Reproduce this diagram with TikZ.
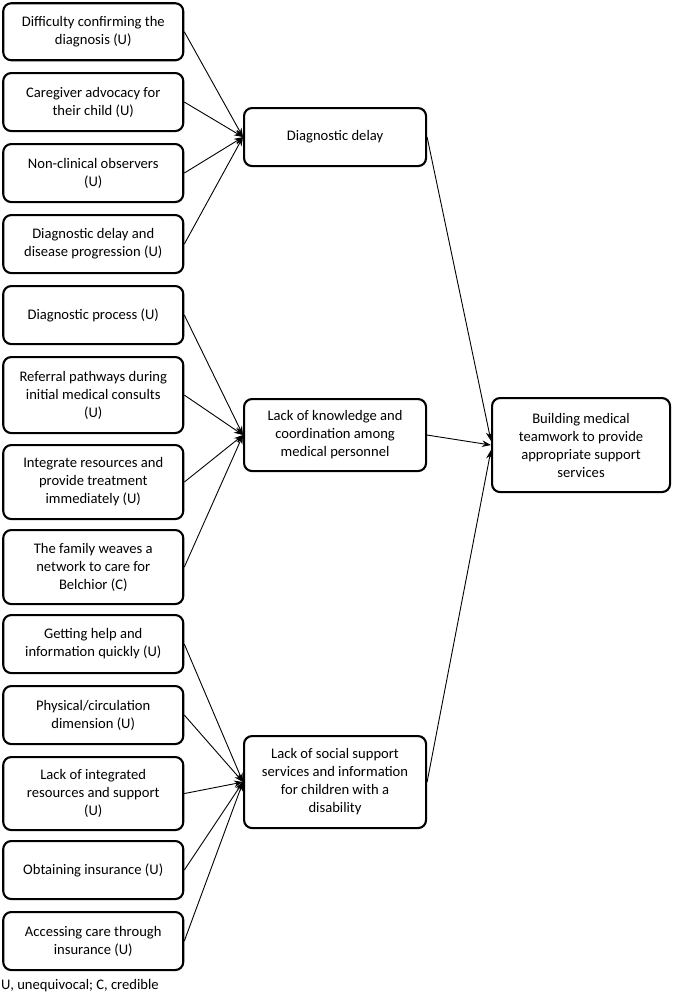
\documentclass[tikz,border=0pt]{standalone}
\usepackage{fontspec}
\setmainfont{Carlito}
\usetikzlibrary{arrows.meta}
\begin{document}
\begin{tikzpicture}[x=1pt,y=-1pt,
  box/.style={draw, line width=2.1pt, rounded corners=8pt, align=center, inner sep=2pt,
    anchor=north west, font=\fontsize{14.6}{18}\selectfont},
  lbox/.style={box, minimum width=180pt},
  mbox/.style={box, minimum width=182pt},
  arr/.style={-{Stealth[length=9pt,width=6.5pt]}, line width=0.9pt}]
\useasboundingbox (0,0) rectangle (673,1001);
% left column
\node[lbox, minimum height=57pt] (a1) at (2.2,2.2) {Difficulty confirming the\\diagnosis (U)};
\node[lbox, minimum height=58pt] (a2) at (2.2,72) {Caregiver advocacy for\\their child (U)};
\node[lbox, minimum height=58pt] (a3) at (2.2,143) {Non-clinical observers\\(U)};
\node[lbox, minimum height=58pt] (a4) at (2.2,214) {Diagnostic delay and\\disease progression (U)};
\node[lbox, minimum height=58pt] (b1) at (2.2,285) {Diagnostic process (U)};
\node[lbox, minimum height=76pt] (b2) at (2.2,356) {Referral pathways during\\initial medical consults\\(U)};
\node[lbox, minimum height=74pt] (b3) at (2.2,444) {Integrate resources and\\provide treatment\\immediately (U)};
\node[lbox, minimum height=74pt] (b4) at (2.2,529) {The family weaves a\\network to care for\\Belchior (C)};
\node[lbox, minimum height=58pt] (c1) at (2.2,614) {Getting help and\\information quickly (U)};
\node[lbox, minimum height=58pt] (c2) at (2.2,685) {Physical/circulation\\dimension (U)};
\node[lbox, minimum height=73pt] (c3) at (2.2,756) {Lack of integrated\\resources and support\\(U)};
\node[lbox, minimum height=58pt] (c4) at (2.2,840) {Obtaining insurance (U)};
\node[lbox, minimum height=58pt] (c5) at (2.2,911) {Accessing care through\\insurance (U)};
% middle column
\node[mbox, minimum height=58pt] (dd) at (243,107) {Diagnostic delay};
\node[mbox, minimum height=72pt] (lk) at (243,398) {Lack of knowledge and\\coordination among\\medical personnel};
\node[mbox, minimum height=92pt] (ls) at (243,735) {Lack of social support\\services and information\\for children with a\\disability};
% right
\node[box, minimum width=178pt, minimum height=94pt] (bm) at (491,397) {Building medical\\teamwork to provide\\appropriate support\\services};
% legend
\node[anchor=west, inner sep=0pt, font=\fontsize{14.6}{18}\selectfont] (leg) at (1,986) {U, unequivocal; C, credible};
% arrows
\foreach \s in {a1,a2,a3,a4} \draw[arr] (\s.east) -- (dd.west);
\foreach \s in {b1,b2,b3,b4} \draw[arr] (\s.east) -- (lk.west);
\foreach \s in {c1,c2,c3,c4,c5} \draw[arr] (\s.east) -- (ls.west);
\draw[arr] (dd.east) -- ([yshift=4pt]bm.west);
\draw[arr] (lk.east) -- (bm.west);
\draw[arr] (ls.east) -- ([yshift=-5pt]bm.west);
\end{tikzpicture}
\end{document}
